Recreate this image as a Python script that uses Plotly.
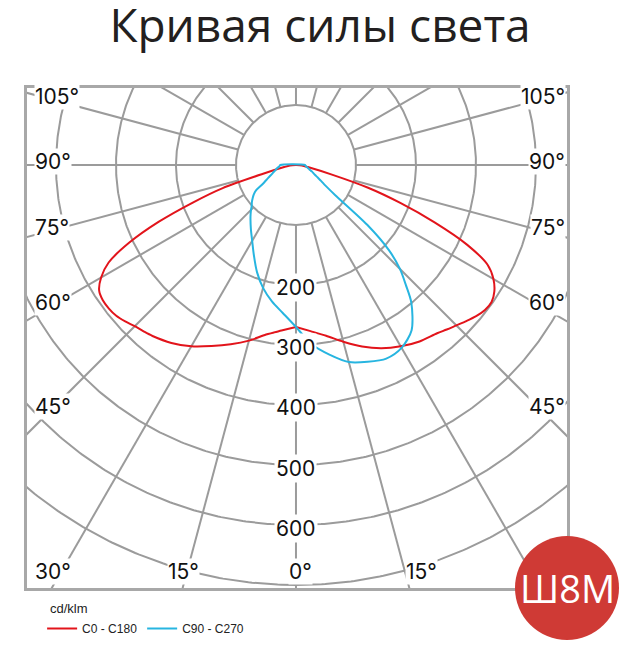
import numpy as np
import plotly.graph_objects as go

# Кривая силы света, cd/klm
# углы гамма от надира (0° - вниз)
gamma = [0, 5, 10, 15, 20, 25, 30, 35, 40, 42.5, 45, 47.5, 50, 52.5, 55, 57.5,
         60, 62.5, 65, 67.5, 70, 72.5, 75, 80, 85, 90]

# плоскость C0 - C180 (красная)
i_c0 = [270, 278, 289, 305, 322, 337, 349, 359, 366, 372, 378, 385, 392, 397, 398, 392,
        380, 360, 315, 250, 185, 125, 62, 20, 10, 0]
i_c180 = [270, 277, 287, 303, 318, 333, 349, 362, 372, 376, 380, 386, 391, 393, 393, 389,
          375, 352, 307, 248, 183, 128, 58, 20, 10, 0]

# плоскость C90 - C270 (голубая)
i_c90 = [270, 300, 321, 340, 349, 356, 352, 336, 299, 271, 245, 210, 155, 82, 60, 50,
         42, 36, 32, 29, 25, 23, 21, 18, 16, 15]
i_c270 = [270, 248, 231, 212, 190, 166, 146, 131, 118, 112, 106, 100, 96, 91, 86, 79,
          65, 57, 51, 46, 42, 39, 36, 32, 28, 26]

# сетка и подписи
circle_r = [100, 200, 300, 400, 500, 600, 700]
ray_angles = list(range(0, 360, 15))
r_labels = [200, 300, 400, 500, 600]
side_labels = [45, 60, 75, 90, 105]
bottom_labels = [-15, 0, 15]

RED = '#e2141b'
CYAN = '#27b5e0'
GRID = '#9b9b9b'
LABEL_FONT = dict(family='Inter', size=21, color='#111111')


def to_xy(angles, values, side=1):
    # полярные -> декартовы, 0° смотрит вниз
    a = np.radians(angles)
    v = np.array(values, dtype=float)
    return side * v * np.sin(a), -v * np.cos(a)


fig = go.Figure()

# окружности и лучи сетки
t = np.linspace(0, 2 * np.pi, 721)
gx, gy = [], []
for r in circle_r:
    gx += list(r * np.sin(t)) + [None]
    gy += list(-r * np.cos(t)) + [None]
for a in ray_angles:
    ar = np.radians(a)
    gx += [100 * np.sin(ar), 1500 * np.sin(ar), None]
    gy += [-100 * np.cos(ar), -1500 * np.cos(ar), None]
fig.add_trace(go.Scatter(x=gx, y=gy, mode='lines', line=dict(color=GRID, width=2),
                         showlegend=False, hoverinfo='skip'))

# красная кривая: левая половина C180, правая C0
xl, yl = to_xy(gamma, i_c180, -1)
xr, yr = to_xy(gamma, i_c0, 1)
fig.add_trace(go.Scatter(x=xl, y=yl, mode='lines', name='C0 - C180', showlegend=False,
                         line=dict(color=RED, width=2, shape='spline', smoothing=0.8)))
fig.add_trace(go.Scatter(x=xr, y=yr, mode='lines', name='C0 - C180',
                         line=dict(color=RED, width=2, shape='spline', smoothing=0.8)))

# голубая кривая: левая половина C270, правая C90, замкнутая
xl, yl = to_xy(gamma, i_c270, -1)
xr, yr = to_xy(gamma, i_c90, 1)
cx = list(xl[::-1]) + list(xr[1:]) + [xl[-1]]
cy = list(yl[::-1]) + list(yr[1:]) + [yl[-1]]
fig.add_trace(go.Scatter(x=cx, y=cy, mode='lines', name='C90 - C270',
                         line=dict(color=CYAN, width=2, shape='spline', smoothing=0.8)))

# подписи радиусов
for r in r_labels:
    fig.add_annotation(x=0, y=-r, yshift=-3, text=str(r), showarrow=False,
                       bgcolor='white', borderpad=1, font=LABEL_FONT)

# подписи углов по бокам рамки
side_x = 407
for a in side_labels:
    y = -side_x * np.cos(np.radians(a)) / np.sin(np.radians(a))
    fig.add_annotation(xref='paper', x=0, y=y, xanchor='left', yanchor='middle',
                       xshift=7, yshift=3, text=f'{a}°', showarrow=False,
                       bgcolor='white', borderpad=0, font=LABEL_FONT)
    fig.add_annotation(xref='paper', x=1, y=y, xanchor='right', yanchor='middle',
                       xshift=-1, yshift=3, text=f'{a}°', showarrow=False,
                       bgcolor='white', borderpad=0, font=LABEL_FONT)

# подписи углов внизу
bottom_y = 677
for a in bottom_labels:
    x = bottom_y * np.tan(np.radians(a))
    if a < 0:
        anchor, shift = 'center', -4
    elif a == 0:
        anchor, shift = 'center', 5
    else:
        anchor, shift = 'left', 0
    fig.add_annotation(x=x, yref='paper', y=0, yshift=17, xanchor=anchor, yanchor='middle',
                       xshift=shift, text=f'{abs(a)}°', showarrow=False,
                       bgcolor='white', borderpad=0, font=LABEL_FONT)
fig.add_annotation(xref='paper', x=0, yref='paper', y=0, xanchor='left', yanchor='middle',
                   xshift=7, yshift=17, text='30°', showarrow=False, bgcolor='white',
                   borderpad=0, font=LABEL_FONT)

# единицы над легендой
fig.add_annotation(xref='paper', yref='paper', x=0.039, y=-0.04, xanchor='left',
                   yanchor='middle', text='cd/klm', showarrow=False,
                   font=dict(family='Liberation Sans', size=13, color='#222222'))

# значок Ш8М
fig.add_shape(type='circle', xref='paper', yref='paper', xsizemode='pixel',
              ysizemode='pixel', xanchor=1, yanchor=0, x0=-52, x1=52, y0=-52, y1=52,
              fillcolor='#cf3a35', line_width=0, layer='above')
fig.add_annotation(xref='paper', yref='paper', x=1, y=0, xanchor='center', yanchor='middle',
                   text='Ш8М', showarrow=False,
                   font=dict(family='Open Sans', size=38, color='white'))

# страница имеет отступ 8px, поэтому фигура на 8px меньше окна
fig.update_layout(
    width=628, height=639,
    margin=dict(l=19, r=69, t=80, b=59, autoexpand=False),
    paper_bgcolor='white', plot_bgcolor='white',
    title=dict(text='Кривая силы света', x=312 / 628, xref='container', xanchor='center',
               y=1 - 18 / 639, yref='container', yanchor='middle',
               font=dict(family='Open Sans', size=46, color='#231f20')),
    legend=dict(orientation='h', x=0.028, y=-0.052, xanchor='left', yanchor='top',
                font=dict(family='Liberation Sans', size=12, color='#222222'),
                itemwidth=30, traceorder='normal', bgcolor='rgba(0,0,0,0)'),
    showlegend=True,
)
fig.update_xaxes(range=[-448.3, 451.7], showgrid=False, zeroline=False,
                 showticklabels=False, ticks='', showline=True, mirror=True,
                 linecolor='#a8a8a8', linewidth=3, fixedrange=True)
fig.update_yaxes(range=[-705, 128.3], showgrid=False, zeroline=False,
                 showticklabels=False, ticks='', showline=True, mirror=True,
                 linecolor='#a8a8a8', linewidth=3, fixedrange=True)

fig.write_html('out.html')
